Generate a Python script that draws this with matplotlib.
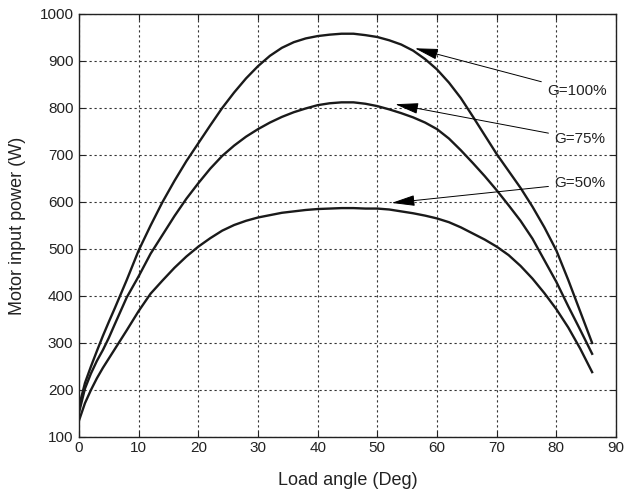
import matplotlib
matplotlib.use("Agg")
import matplotlib.pyplot as plt

plt.rcParams['font.family'] = ['Liberation Sans', 'DejaVu Sans']

# Load angle (deg)
angle = [0, 1, 2, 3, 4, 5, 6, 8, 10, 12, 14, 16, 18, 20, 22, 24, 26, 28, 30,
         32, 34, 36, 38, 40, 42, 44, 46, 48, 50, 52, 54, 56, 58, 60, 62, 64,
         66, 68, 70, 72, 74, 76, 78, 80, 82, 84, 86]

# Motor input power (W)
g100 = [165, 215, 250, 283, 315, 345, 374, 434, 497, 550, 600, 645, 687, 725,
        763, 800, 833, 863, 889, 911, 928, 940, 948, 953, 956, 958, 958, 955,
        951, 944, 935, 922, 904, 882, 854, 821, 782, 742, 702, 666, 630, 590,
        546, 497, 434, 367, 300]
g75 = [152, 203, 235, 262, 285, 311, 340, 397, 442, 490, 530, 570, 607, 640,
       671, 698, 720, 739, 755, 769, 781, 791, 799, 806, 810, 812, 812, 809,
       804, 797, 789, 780, 769, 755, 735, 710, 683, 655, 625, 593, 560, 522,
       476, 430, 378, 328, 277]
g50 = [135, 172, 200, 225, 247, 267, 287, 327, 368, 405, 433, 460, 484, 505,
       523, 539, 551, 560, 567, 572, 577, 580, 583, 585, 586, 587, 587, 586,
       586, 584, 580, 576, 571, 565, 557, 546, 533, 520, 505, 487, 464, 437,
       406, 372, 333, 288, 238]

labels = ["G=100%", "G=75%", "G=50%"]
heads = [(56.3, 927), (53.0, 808), (52.4, 598)]
texts = [(78.4, 836), (79.6, 734), (79.6, 640)]

xticks = list(range(0, 91, 10))
yticks = list(range(100, 1001, 100))

fig = plt.figure(figsize=(6.25, 4.94), dpi=100)
ax = fig.add_axes([0.1264, 0.1154, 0.8592, 0.8563])

for ser in (g100, g75, g50):
    ax.plot(angle, ser, color='#1a1a1a', lw=1.7)

for lab, hd, tx in zip(labels, heads, texts):
    ax.annotate(lab, xy=hd, xytext=tx, ha='left', va='center', fontsize=11,
                color='#222222',
                arrowprops=dict(arrowstyle='-|>,head_length=1.2,head_width=0.28',
                                color='black', lw=0.7, mutation_scale=12,
                                shrinkA=2, shrinkB=0))

ax.set_xlim(0, 90)
ax.set_ylim(100, 1000)
ax.set_xticks(xticks)
ax.set_yticks(yticks)
ax.grid(True, linestyle=(0, (2, 2.5)), color='#333333', lw=0.8)
ax.tick_params(direction='in', top=True, right=True, length=4, labelsize=11,
               colors='#222222')
ax.tick_params(axis='x', pad=3)
ax.tick_params(axis='y', pad=4)
for sp in ax.spines.values():
    sp.set_linewidth(1.0)
    sp.set_color('#222222')

ax.set_xlabel("Load angle (Deg)", fontsize=13, color='#222222', va='center')
ax.set_ylabel("Motor input power (W)", fontsize=13, color='#222222', va='center')
ax.xaxis.set_label_coords(0.5, -0.104)
ax.yaxis.set_label_coords(-0.114, 0.5)

fig.savefig("out.png", dpi=100)
